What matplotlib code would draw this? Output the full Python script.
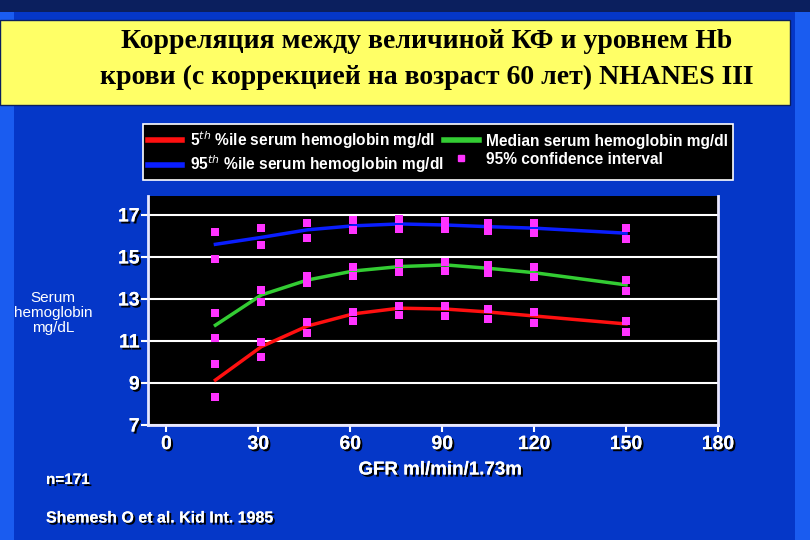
import numpy as np
import matplotlib
matplotlib.use('Agg')
import matplotlib.pyplot as plt
import matplotlib.patheffects as pe
from matplotlib.patches import Rectangle
from matplotlib.lines import Line2D

# GFR points (ml/min/1.73m2)
gfr = [16, 31, 46, 61, 76, 91, 105, 120, 150]

# fitted curves
p5 = [9.14, 10.73, 11.71, 12.29, 12.56, 12.52, 12.38, 12.19, 11.81]
median = [11.75, 13.19, 13.9, 14.33, 14.54, 14.62, 14.46, 14.25, 13.67]
p95 = [15.6, 15.93, 16.29, 16.48, 16.57, 16.52, 16.44, 16.37, 16.13]

# 95% confidence interval points (upper/lower for each curve)
ci_p95 = [[16.2, 14.9], [16.4, 15.55], [16.63, 15.89], [16.76, 16.29], [16.8, 16.32],
          [16.71, 16.32], [16.63, 16.25], [16.63, 16.13], [16.4, 15.84]]
ci_med = [[12.35, 11.16], [13.43, 12.87], [14.1, 13.75], [14.54, 14.1], [14.7, 14.3],
          [14.78, 14.35], [14.62, 14.25], [14.5, 14.03], [13.9, 13.38]]
ci_p5 = [[9.9, 8.35], [10.97, 10.25], [11.9, 11.37], [12.37, 11.95], [12.67, 12.24],
         [12.67, 12.2], [12.5, 12.05], [12.4, 11.84], [11.97, 11.44]]

yticks = [7, 9, 11, 13, 15, 17]
xticks = [0, 30, 60, 90, 120, 150, 180]

title_lines = ['Корреляция между величиной КФ и уровнем Hb',
               'крови (с коррекцией на возраст 60 лет) NHANES III']

shadow = [pe.withSimplePatchShadow(offset=(1.5, -1.5), shadow_rgbFace='black', alpha=1.0), pe.Normal()]

fig = plt.figure(figsize=(8.1, 5.4), dpi=100)
fig.patch.set_facecolor('#0537c8')

# slide background strips
fig.patches.append(Rectangle((0, 1 - 12 / 540), 1, 12 / 540, transform=fig.transFigure,
                             facecolor='#0b1f5e', edgecolor='none', zorder=0))
fig.patches.append(Rectangle((0, 0), 14 / 810, 1 - 12 / 540, transform=fig.transFigure,
                             facecolor='#1a5cf0', edgecolor='none', zorder=0))
fig.patches.append(Rectangle((795 / 810, 0), 15 / 810, 1 - 12 / 540, transform=fig.transFigure,
                             facecolor='#1a5cf0', edgecolor='none', zorder=0))
# title box
fig.patches.append(Rectangle((0, 1 - 105 / 540), 790 / 810, 85 / 540, transform=fig.transFigure,
                             facecolor='#ffff66', edgecolor='#0b1f5e', linewidth=1, zorder=1))
for line, ypix in zip(title_lines, [42, 77]):
    fig.text(427 / 810, 1 - ypix / 540, line, ha='center', va='center', fontsize=20,
             fontweight='bold', family='Liberation Serif', color='black')

ax = fig.add_axes([148 / 810, 1 - 425 / 540, 570 / 810, 229 / 540])
ax.set_facecolor('black')

ax.plot(gfr, p95, color='#0a1eff', lw=2.5, zorder=3)
ax.plot(gfr, median, color='#33cc33', lw=2.5, zorder=3)
ax.plot(gfr, p5, color='#ff1010', lw=2.5, zorder=3)

for ci in (ci_p95, ci_med, ci_p5):
    for x, pair in zip(gfr, ci):
        ax.scatter([x, x], pair, marker='s', s=34, color='#ff33ff', zorder=4, linewidths=0)

ax.set_xlim(-6, 180)
ax.set_ylim(7, 17.9)
ax.set_xticks(xticks)
ax.set_yticks(yticks)
ax.grid(axis='y', color='white', lw=1.5, zorder=1)
ax.set_axisbelow(True)
for s in ('left', 'right', 'bottom'):
    ax.spines[s].set_color('#e8e8ff')
    ax.spines[s].set_linewidth(2)
ax.spines['top'].set_visible(False)
ax.tick_params(colors='white', length=5, width=1.5, pad=3)
ax.tick_params(axis='y', pad=1)
for lab in ax.get_xticklabels() + ax.get_yticklabels():
    lab.set_fontsize(14)
    lab.set_fontweight('bold')
    lab.set_family('Liberation Sans')
    lab.set_color('white')
    lab.set_path_effects(shadow)

fig.text(53 / 810, 1 - 313 / 540, 'Serum\nhemoglobin\nmg/dL', ha='center', va='center',
         color='white', fontsize=11, family='Liberation Sans', linespacing=1.12)
fig.text(440 / 810, 1 - 470 / 540, 'GFR ml/min/1.73m', ha='center', va='center', color='white',
         fontsize=13.5, fontweight='bold', family='Liberation Sans', path_effects=shadow)
fig.text(46 / 810, 1 - 480 / 540, 'n=171', ha='left', va='center', color='white',
         fontsize=11, fontweight='bold', family='Liberation Sans', path_effects=shadow)
fig.text(46 / 810, 1 - 518 / 540, 'Shemesh O et al. Kid Int. 1985', ha='left', va='center',
         color='white', fontsize=11.5, fontweight='bold', family='Liberation Sans', path_effects=shadow)

handles = [
    Line2D([], [], color='#ff1010', lw=4),
    Line2D([], [], color='#0a1eff', lw=4),
    Line2D([], [], color='#33cc33', lw=4),
    Line2D([], [], color='#ff33ff', marker='s', ls='none', markersize=5),
]
labels = ['5$^{th}$ %ile serum hemoglobin mg/dl', '95$^{th}$ %ile serum hemoglobin mg/dl',
          'Median serum hemoglobin mg/dl', '95% confidence interval']
leg = fig.legend(handles, labels, ncol=2, loc='lower left',
                 bbox_to_anchor=(143 / 810, 1 - 180 / 540, 590 / 810, 56 / 540), mode='expand',
                 facecolor='black', edgecolor='white', fancybox=False, framealpha=1,
                 handlelength=2.2, handletextpad=0.5, borderaxespad=0, borderpad=0.3,
                 labelspacing=0.2, columnspacing=1.0,
                 prop={'family': 'Liberation Sans', 'weight': 'bold', 'size': 11.2})
leg.get_frame().set_linewidth(1.2)
for t in leg.get_texts():
    t.set_color('white')

fig.savefig('out.png', dpi=100, facecolor=fig.get_facecolor())
